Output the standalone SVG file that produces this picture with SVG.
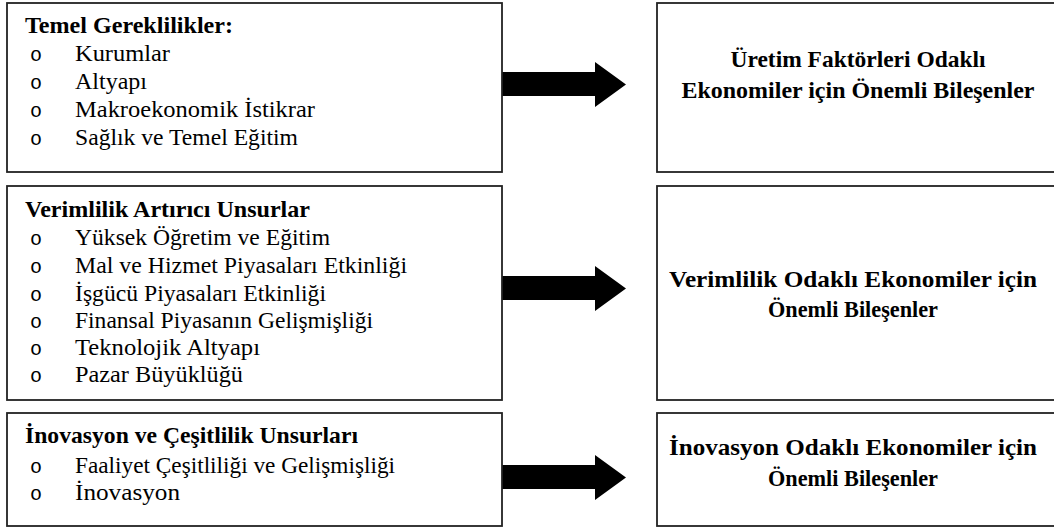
<svg xmlns="http://www.w3.org/2000/svg" width="1054" height="529" viewBox="0 0 1054 529">
<style>
.box{fill:#fff;stroke:#222;stroke-width:1.8}
.t{font-family:'Liberation Serif','DejaVu Serif','Times New Roman',serif;font-size:23px;fill:#000}
.b{font-weight:bold;font-size:22.5px}
.bul{font-family:'Liberation Mono','Courier New',monospace;font-size:20px;fill:#000}
.c{text-anchor:middle}
.arrow{fill:#000}
</style>
<rect width="1054" height="529" fill="#fff"/>
<g id="connectors">
<polygon class="arrow" points="502,72 595,72 595,62 626,84.5 595,107 595,96 502,96"/>
<polygon class="arrow" points="502,276 595,276 595,266 626,288.5 595,311 595,300 502,300"/>
<polygon class="arrow" points="502,465 595,465 595,455 626,477.5 595,500 595,489 502,489"/>
</g>
<g id="node-temel">
<rect class="box" x="7" y="3" width="495" height="169"/>
<text class="t b" x="25" y="33" textLength="208" lengthAdjust="spacingAndGlyphs">Temel Gereklilikler:</text>
<text class="bul" x="30" y="61">o</text><text class="t" x="75" y="61" textLength="95" lengthAdjust="spacingAndGlyphs">Kurumlar</text>
<text class="bul" x="30" y="89">o</text><text class="t" x="75" y="89" textLength="72" lengthAdjust="spacingAndGlyphs">Altyapı</text>
<text class="bul" x="30" y="117">o</text><text class="t" x="75" y="117" textLength="240" lengthAdjust="spacingAndGlyphs">Makroekonomik İstikrar</text>
<text class="bul" x="30" y="145">o</text><text class="t" x="75" y="145" textLength="223" lengthAdjust="spacingAndGlyphs">Sağlık ve Temel Eğitim</text>
</g>
<g id="node-verimlilik">
<rect class="box" x="7" y="186" width="495" height="214"/>
<text class="t b" x="25" y="217" textLength="285" lengthAdjust="spacingAndGlyphs">Verimlilik Artırıcı Unsurlar</text>
<text class="bul" x="30" y="245">o</text><text class="t" x="75" y="245" textLength="255" lengthAdjust="spacingAndGlyphs">Yüksek Öğretim ve Eğitim</text>
<text class="bul" x="30" y="273">o</text><text class="t" x="75" y="273" textLength="332" lengthAdjust="spacingAndGlyphs">Mal ve Hizmet Piyasaları Etkinliği</text>
<text class="bul" x="30" y="301">o</text><text class="t" x="75" y="301" textLength="251" lengthAdjust="spacingAndGlyphs">İşgücü Piyasaları Etkinliği</text>
<text class="bul" x="30" y="328">o</text><text class="t" x="75" y="328" textLength="298" lengthAdjust="spacingAndGlyphs">Finansal Piyasanın Gelişmişliği</text>
<text class="bul" x="30" y="355">o</text><text class="t" x="75" y="355" textLength="185" lengthAdjust="spacingAndGlyphs">Teknolojik Altyapı</text>
<text class="bul" x="30" y="382">o</text><text class="t" x="75" y="382" textLength="168" lengthAdjust="spacingAndGlyphs">Pazar Büyüklüğü</text>
</g>
<g id="node-inovasyon">
<rect class="box" x="7" y="413" width="495" height="113"/>
<text class="t b" x="25" y="443" textLength="333" lengthAdjust="spacingAndGlyphs">İnovasyon ve Çeşitlilik Unsurları</text>
<text class="bul" x="30" y="473">o</text><text class="t" x="75" y="473" textLength="320" lengthAdjust="spacingAndGlyphs">Faaliyet Çeşitliliği  ve Gelişmişliği</text>
<text class="bul" x="30" y="500">o</text><text class="t" x="75" y="500" textLength="105" lengthAdjust="spacingAndGlyphs">İnovasyon</text>
</g>
<g id="node-uretim">
<rect class="box" x="657" y="3" width="401" height="169"/>
<text class="t b c" x="858" y="67" textLength="255" lengthAdjust="spacingAndGlyphs">Üretim Faktörleri Odaklı</text>
<text class="t b c" x="858" y="98" textLength="353" lengthAdjust="spacingAndGlyphs">Ekonomiler için Önemli Bileşenler</text>
</g>
<g id="node-verimlilik-odakli">
<rect class="box" x="657" y="186" width="401" height="214"/>
<text class="t b c" x="853" y="287" textLength="368" lengthAdjust="spacingAndGlyphs">Verimlilik Odaklı Ekonomiler için</text>
<text class="t b c" x="853" y="317" textLength="170" lengthAdjust="spacingAndGlyphs">Önemli Bileşenler</text>
</g>
<g id="node-inovasyon-odakli">
<rect class="box" x="657" y="413" width="401" height="113"/>
<text class="t b c" x="853" y="455" textLength="368" lengthAdjust="spacingAndGlyphs">İnovasyon Odaklı Ekonomiler için</text>
<text class="t b c" x="853" y="486" textLength="170" lengthAdjust="spacingAndGlyphs">Önemli Bileşenler</text>
</g>
</svg>
